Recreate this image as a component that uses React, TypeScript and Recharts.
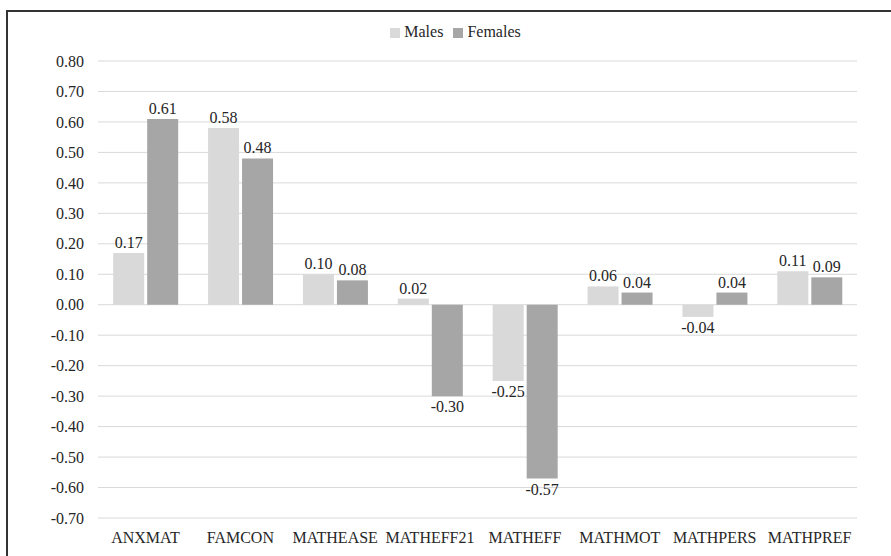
import React from 'react';
import { BarChart, Bar, XAxis, YAxis, CartesianGrid, Legend, LabelList } from 'recharts';

const categories = ['ANXMAT', 'FAMCON', 'MATHEASE', 'MATHEFF21', 'MATHEFF', 'MATHMOT', 'MATHPERS', 'MATHPREF'];
const males = [0.17, 0.58, 0.1, 0.02, -0.25, 0.06, -0.04, 0.11];
const females = [0.61, 0.48, 0.08, -0.3, -0.57, 0.04, 0.04, 0.09];
const yTicks = [-0.7, -0.6, -0.5, -0.4, -0.3, -0.2, -0.1, 0, 0.1, 0.2, 0.3, 0.4, 0.5, 0.6, 0.7, 0.8];
const seriesOrder = ['Males', 'Females'];

const data = categories.map((name, i) => ({ name, Males: males[i], Females: females[i] }));

const FONT = '"Liberation Serif", "Times New Roman", serif';
const TEXT = '#262626';

const fmt = (v: number) => Number(v).toFixed(2);

const App: React.FC = () => {
  return (
    <div style={{ position: 'absolute', left: 0, top: 0, width: 891, height: 556, background: '#fff', fontFamily: FONT }}>
      <div
        style={{
          position: 'absolute',
          left: 6,
          top: 10,
          width: 900,
          height: 600,
          borderLeft: '2px solid #333',
          borderTop: '2px solid #333',
        }}
      />
      <div style={{ position: 'absolute', left: 0, top: 0 }}>
        <BarChart
          width={891}
          height={556}
          data={data}
          margin={{ top: 43, right: 34, bottom: 6, left: 0 }}
          barCategoryGap="16%"
          barGap={3}
        >
          <CartesianGrid vertical={false} stroke="#d9d9d9" strokeWidth={1} />
          <Legend
            verticalAlign="top"
            align="center"
            iconType="square"
            iconSize={10}
            itemSorter={(item: any) => seriesOrder.indexOf(item.value)}
            wrapperStyle={{ top: 23, left: 32, fontFamily: FONT, fontSize: 16 }}
            formatter={(value: string) => <span style={{ color: TEXT }}>{value}</span>}
          />
          <XAxis
            dataKey="name"
            axisLine={false}
            tickLine={false}
            height={32}
            tickMargin={8}
            interval={0}
            tick={{ fill: TEXT, fontSize: 16, fontFamily: FONT }}
          />
          <YAxis
            width={98}
            domain={[-0.7, 0.8]}
            ticks={yTicks}
            axisLine={false}
            tickLine={false}
            tickMargin={8}
            tickFormatter={fmt}
            tick={{ fill: TEXT, fontSize: 16, fontFamily: FONT }}
            allowDataOverflow
          />
          <Bar dataKey="Males" fill="#d9d9d9" isAnimationActive={false}>
            <LabelList dataKey="Males" position="top" formatter={fmt} style={{ fill: TEXT, fontSize: 16, fontFamily: FONT }} />
          </Bar>
          <Bar dataKey="Females" fill="#a6a6a6" isAnimationActive={false}>
            <LabelList dataKey="Females" position="top" formatter={fmt} style={{ fill: TEXT, fontSize: 16, fontFamily: FONT }} />
          </Bar>
        </BarChart>
      </div>
    </div>
  );
};

export default App;
